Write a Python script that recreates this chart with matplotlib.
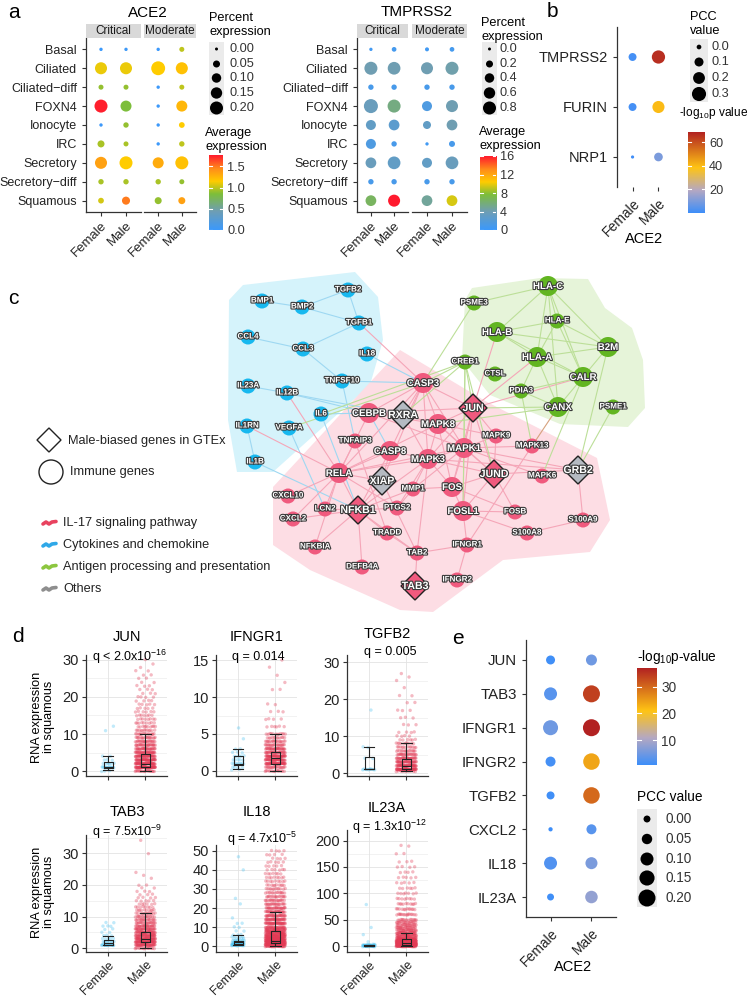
import numpy as np
import matplotlib
matplotlib.use('Agg')
import matplotlib.pyplot as plt
from matplotlib.colors import LinearSegmentedColormap
from matplotlib.patches import Polygon, Rectangle, Circle
import matplotlib.patheffects as pe

plt.rcParams['font.family'] = ['Liberation Sans', 'DejaVu Sans']
plt.rcParams['mathtext.default'] = 'regular'

W, H = 752, 998
fig = plt.figure(figsize=(W / 100, H / 100), dpi=100)

def px_axes(x0, y0, x1, y1, **kw):
    return fig.add_axes([x0 / W, 1 - y1 / H, (x1 - x0) / W, (y1 - y0) / H], **kw)

TXT = '#222222'
LN = '#333333'

# ---------------- data: panel a ----------------
cell_types = ['Basal', 'Ciliated', 'Ciliated\u2212diff', 'FOXN4', 'Ionocyte', 'IRC',
              'Secretory', 'Secretory\u2212diff', 'Squamous']
groups = ['Critical', 'Moderate']
sexes = ['Female', 'Male']
# columns: Critical-Female, Critical-Male, Moderate-Female, Moderate-Male
ace2_pct = [[0.003, 0.003, 0.003, 0.02],
            [0.17, 0.17, 0.23, 0.17],
            [0.02, 0.02, 0.003, 0.02],
            [0.20, 0.14, 0.003, 0.14],
            [0.003, 0.025, 0.003, 0.03],
            [0.05, 0.02, 0.003, 0.025],
            [0.17, 0.20, 0.14, 0.20],
            [0.025, 0.025, 0.025, 0.02],
            [0.03, 0.07, 0.05, 0.05]]
ace2_avg = [[0.0, 0.03, 0.0, 1.0],
            [1.1, 1.1, 1.15, 1.2],
            [0.9, 0.9, 0.02, 1.0],
            [1.75, 0.85, 0.02, 1.25],
            [0.02, 0.9, 0.02, 1.15],
            [0.95, 0.95, 0.02, 1.0],
            [1.35, 1.15, 1.3, 1.2],
            [0.95, 0.95, 0.95, 0.9],
            [1.05, 1.5, 0.9, 1.35]]
tmprss2_pct = [[0.01, 0.065, 0.035, 0.065],
               [0.80, 0.76, 0.675, 0.80],
               [0.10, 0.10, 0.10, 0.10],
               [0.935, 0.80, 0.455, 0.675],
               [0.455, 0.53, 0.275, 0.53],
               [0.455, 0.10, 0.01, 0.135],
               [0.53, 0.76, 0.455, 0.76],
               [0.10, 0.10, 0.10, 0.10],
               [0.53, 0.675, 0.53, 0.53]]
tmprss2_avg = [[0.5, 0.8, 0.5, 0.8],
               [4.0, 4.0, 4.0, 4.2],
               [1.0, 1.0, 1.0, 1.0],
               [3.5, 5.5, 1.5, 4.0],
               [3.0, 2.5, 3.0, 4.0],
               [1.5, 1.0, 0.5, 1.0],
               [3.5, 3.0, 3.0, 3.5],
               [1.0, 1.0, 1.0, 1.0],
               [6.5, 16.0, 4.8, 9.5]]

# ---------------- data: panel b ----------------
b_genes = ['TMPRSS2', 'FURIN', 'NRP1']
b_pcc_f = [0.07, 0.07, -0.02]
b_pcc_m = [0.26, 0.21, 0.09]
b_logp_f = [1.5, 1.5, 0.5]
b_logp_m = [66, 40, 10]

# ---------------- data: panel e ----------------
e_genes = ['JUN', 'TAB3', 'IFNGR1', 'IFNGR2', 'TGFB2', 'CXCL2', 'IL18', 'IL23A']
e_pcc_f = [0.027, 0.10, 0.147, 0.043, 0.013, -0.025, 0.10, 0.0]
e_pcc_m = [0.06, 0.20, 0.20, 0.186, 0.186, 0.043, 0.08, 0.09]
e_logp_f = [1, 3, 5, 1.5, 1, 0.8, 2.5, 1]
e_logp_m = [5, 34, 37, 24, 30, 3, 6, 8]

# ---------------- data: panel d ----------------
d_genes = ['JUN', 'IFNGR1', 'TGFB2', 'TAB3', 'IL18', 'IL23A']
d_q = [r'q < 2.0x10$^{-16}$', 'q = 0.014', 'q = 0.005',
       r'q = 7.5x10$^{-9}$', r'q = 4.7x10$^{-5}$', r'q = 1.3x10$^{-12}$']
jun_f_lv = [0, 1, 2, 3, 4, 11, 12]
jun_f_ct = [3, 14, 6, 3, 2, 1, 1]
jun_m_lv = list(range(0, 31))
jun_m_ct = [20, 60, 50, 45, 40, 35, 30, 25, 22, 18, 15, 12, 10, 9, 8, 7, 6, 5, 5, 4, 4, 3, 3, 3, 2, 2, 2, 2, 1, 1, 1]
ifngr1_f_lv = [0.2, 0.5, 1, 1.5, 2, 2.5, 3, 4.3, 5.8]
ifngr1_f_ct = [2, 4, 8, 5, 5, 3, 2, 1, 1]
ifngr1_m_lv = [0, 0.5, 1, 1.5, 2, 2.5, 3, 3.5, 4, 4.5, 5, 6, 7, 8, 9, 11, 12, 13, 14, 15]
ifngr1_m_ct = [15, 20, 50, 40, 45, 30, 30, 20, 18, 12, 12, 6, 4, 3, 2, 2, 1, 1, 1, 1]
tgfb2_f_lv = [1, 4, 7, 17]
tgfb2_f_ct = [10, 2, 2, 1]
tgfb2_m_lv = [0.5, 1, 2, 3, 4, 5, 6, 7, 8, 9, 10, 11, 13, 15, 17, 19, 21, 23, 25, 26, 27]
tgfb2_m_ct = [10, 60, 45, 35, 30, 22, 15, 12, 10, 6, 4, 4, 3, 3, 3, 2, 2, 1, 1, 1, 1]
tab3_f_lv = [1, 2, 3, 4, 5, 6, 7, 8]
tab3_f_ct = [18, 8, 5, 3, 2, 2, 3, 2]
tab3_m_lv = list(range(0, 21)) + [22, 23, 24, 30, 34]
tab3_m_ct = [15, 40, 50, 45, 40, 35, 30, 25, 20, 18, 15, 12, 10, 8, 6, 5, 4, 3, 3, 2, 2, 1, 1, 1, 1, 1]
il18_f_lv = [0.5, 1, 2, 3, 4, 5, 6, 8, 10, 12, 15, 22, 25, 40, 47]
il18_f_ct = [15, 25, 15, 8, 5, 4, 3, 2, 2, 2, 1, 1, 1, 1, 1]
il18_m_lv = [0, 1, 2, 3, 4, 5, 6, 7, 8, 9, 10, 12, 14, 16, 18, 20, 22, 24, 26, 28, 30, 32, 34, 36, 38, 40, 42, 44, 46, 48, 50]
il18_m_ct = [30, 60, 55, 50, 45, 40, 35, 32, 30, 28, 25, 40, 35, 30, 28, 25, 20, 18, 16, 14, 12, 10, 9, 8, 7, 6, 5, 5, 4, 4, 4]
il23a_f_lv = [0, 1, 2, 3, 8, 22, 36, 78]
il23a_f_ct = [12, 20, 10, 4, 1, 1, 1, 1]
il23a_m_lv = [0, 2, 4, 6, 8, 10, 12, 15, 20, 25, 30, 35, 40, 45, 50, 60, 70, 80, 90, 100, 110, 120, 130, 140, 150, 160, 175, 190]
il23a_m_ct = [40, 60, 55, 50, 45, 40, 35, 40, 35, 30, 25, 22, 20, 18, 15, 15, 12, 10, 8, 7, 6, 5, 5, 4, 4, 3, 2, 2]
# box stats: (whisker low, q1, median, q3, whisker high)
box_f = [(0.3, 0.8, 1, 2.5, 4), (0.2, 0.8, 1, 2, 3), (1, 1, 1, 4.3, 7),
         (1, 1, 1.5, 2.5, 4), (0.5, 1, 2, 3, 6), (0, 0.5, 1, 2, 3)]
box_m = [(0, 1, 2, 4.5, 10), (0, 1, 1.7, 2.5, 5), (0.5, 1, 2, 3.8, 8),
         (0, 2, 3, 5, 11), (0, 1.5, 3, 8, 18), (0, 2, 6, 14, 26)]

# ---------------- data: panel c network ----------------
node_name = ['BMP1', 'BMP2', 'TGFB2', 'TGFB1', 'CCL4', 'CCL3', 'IL18', 'IL23A', 'IL12B', 'TNFSF10',
             'IL6', 'IL1RN', 'VEGFA', 'IL1B',
             'CASP3', 'CEBPB', 'RXRA', 'TNFAIP3', 'CASP8', 'RELA', 'XIAP', 'MMP1', 'CXCL10', 'LCN2',
             'NFKB1', 'PTGS2', 'CXCL2', 'TRADD', 'NFKBIA', 'TAB2', 'DEFB4A', 'TAB3', 'IFNGR2', 'IFNGR1',
             'S100A8', 'S100A9', 'FOSB', 'FOSL1', 'FOS', 'JUND', 'MAPK6', 'GRB2', 'MAPK13', 'MAPK9',
             'MAPK1', 'MAPK3', 'MAPK8', 'JUN',
             'HLA-C', 'PSME3', 'HLA-E', 'HLA-B', 'B2M', 'HLA-A', 'CREB1', 'CTSL', 'CALR', 'PDIA3',
             'CANX', 'PSME1']
node_x = [262, 302, 348, 359, 248, 303, 367, 248, 287, 342, 321, 247, 289, 255,
          423, 369, 403, 355, 390, 339, 382, 413, 288, 325, 358, 397, 293, 387, 315, 417, 362, 415,
          457, 467, 527, 583, 515, 463, 452, 494, 542, 578, 532, 496, 464, 428, 438, 473,
          548, 474, 557, 497, 608, 537, 465, 495, 583, 521, 558, 613]
node_y = [301, 307, 290, 323, 337, 349, 354, 386, 393, 381, 414, 426, 428, 462,
          383, 413, 415, 441, 451, 473, 481, 489, 496, 509, 510, 508, 519, 533, 547, 553, 567, 586,
          580, 545, 533, 520, 512, 511, 487, 474, 476, 470, 446, 436, 448, 459, 424, 408,
          286, 303, 321, 332, 347, 357, 362, 374, 377, 391, 407, 407]
node_group = ['b'] * 14 + ['p', 'p', 'o', 'p', 'p', 'p', 'o', 'p', 'p', 'p', 'p', 'p', 'p', 'p', 'p', 'p',
                           'p', 'p', 'p', 'p', 'p', 'p', 'p', 'p', 'p', 'p', 'p', 'o', 'p', 'p',
                           'p', 'p', 'p', 'p'] + ['g'] * 12
node_shape = ['c'] * 16 + ['d', 'c', 'c', 'c', 'd', 'c', 'c', 'c', 'd', 'c', 'c', 'c', 'c', 'c', 'c', 'd',
                           'c', 'c', 'c', 'c', 'c', 'c', 'c', 'd', 'c', 'd', 'c', 'c', 'c', 'c', 'c', 'd'] + ['c'] * 12
big_nodes = ['CASP3', 'CEBPB', 'CASP8', 'RELA', 'FOS', 'FOSL1', 'MAPK1', 'MAPK3', 'MAPK8',
             'HLA-C', 'HLA-B', 'HLA-A', 'B2M', 'CALR', 'CANX']

edges_blue = [('BMP1', 'BMP2'), ('BMP2', 'TGFB2'), ('BMP2', 'TGFB1'), ('TGFB2', 'TGFB1'), ('TGFB1', 'CCL3'),
              ('CCL4', 'CCL3'), ('CCL3', 'TNFSF10'), ('IL23A', 'IL12B'), ('IL1RN', 'IL1B'), ('IL18', 'CASP3'),
              ('TNFSF10', 'CASP3'), ('TNFSF10', 'TNFAIP3'), ('IL12B', 'CEBPB'), ('IL12B', 'RXRA'),
              ('IL6', 'CEBPB'), ('IL6', 'NFKB1'), ('VEGFA', 'LCN2'), ('IL1B', 'NFKB1'), ('CEBPB', 'CASP8')]
edges_pink = [('RELA', 'NFKB1'), ('RELA', 'CEBPB'), ('RELA', 'CASP8'), ('RELA', 'MAPK3'), ('RELA', 'MAPK1'),
              ('RELA', 'XIAP'), ('RELA', 'CXCL10'), ('RELA', 'LCN2'), ('RELA', 'TNFAIP3'), ('RELA', 'NFKBIA'),
              ('RELA', 'CXCL2'), ('RELA', 'PTGS2'), ('RELA', 'MAPK8'), ('RELA', 'CASP3'), ('RELA', 'IL1RN'),
              ('RELA', 'IL12B'), ('NFKB1', 'CXCL2'), ('NFKB1', 'LCN2'), ('NFKB1', 'NFKBIA'), ('NFKB1', 'TRADD'),
              ('NFKB1', 'PTGS2'), ('NFKB1', 'MAPK3'), ('NFKB1', 'DEFB4A'), ('NFKB1', 'XIAP'), ('NFKB1', 'CASP8'),
              ('NFKB1', 'TAB2'), ('NFKB1', 'MMP1'), ('CASP3', 'CASP8'), ('CASP3', 'XIAP'), ('CASP3', 'MAPK8'),
              ('CASP3', 'JUN'), ('CASP3', 'MAPK3'), ('CASP3', 'CEBPB'), ('CASP3', 'RXRA'), ('CASP3', 'TGFB1'),
              ('CASP3', 'MAPK1'), ('CEBPB', 'RXRA'), ('CEBPB', 'MAPK8'), ('CEBPB', 'MAPK1'), ('CEBPB', 'JUN'),
              ('RXRA', 'MAPK8'), ('RXRA', 'MAPK3'), ('MAPK8', 'JUN'), ('MAPK8', 'MAPK1'), ('MAPK8', 'MAPK3'),
              ('MAPK8', 'MAPK9'), ('MAPK8', 'JUND'), ('MAPK8', 'FOS'), ('MAPK9', 'JUN'), ('MAPK9', 'JUND'),
              ('MAPK9', 'MAPK1'), ('MAPK1', 'MAPK3'), ('MAPK1', 'JUN'), ('MAPK1', 'FOS'), ('MAPK1', 'JUND'),
              ('MAPK1', 'FOSL1'), ('MAPK1', 'MAPK13'), ('MAPK1', 'GRB2'), ('MAPK1', 'MMP1'), ('MAPK1', 'MAPK6'),
              ('MAPK3', 'FOS'), ('MAPK3', 'MMP1'), ('MAPK3', 'CASP8'), ('MAPK3', 'GRB2'), ('MAPK3', 'JUND'),
              ('MAPK3', 'JUN'), ('MAPK3', 'TAB2'), ('MAPK3', 'PTGS2'), ('FOS', 'JUND'), ('FOS', 'FOSL1'),
              ('FOS', 'MMP1'), ('FOS', 'JUN'), ('FOS', 'FOSB'), ('FOSL1', 'FOSB'), ('FOSL1', 'JUND'),
              ('FOSL1', 'JUN'), ('FOSL1', 'IFNGR1'), ('JUND', 'JUN'), ('JUND', 'FOSB'), ('JUND', 'GRB2'),
              ('GRB2', 'S100A9'), ('S100A8', 'S100A9'), ('S100A8', 'FOSL1'), ('MAPK13', 'IFNGR1'),
              ('IFNGR1', 'IFNGR2'), ('IFNGR1', 'TAB2'), ('TAB2', 'TAB3'), ('TAB2', 'XIAP'), ('TAB2', 'TRADD'),
              ('XIAP', 'CASP8'), ('PTGS2', 'MMP1'), ('TRADD', 'TNFAIP3'), ('JUN', 'HLA-B'), ('JUN', 'HLA-A'),
              ('JUN', 'CALR')]
edges_green = [('HLA-C', 'PSME3'), ('HLA-C', 'HLA-B'), ('HLA-C', 'HLA-A'), ('HLA-C', 'HLA-E'), ('HLA-C', 'B2M'),
               ('HLA-C', 'CALR'), ('HLA-C', 'CANX'), ('HLA-B', 'HLA-E'), ('HLA-B', 'B2M'), ('HLA-B', 'HLA-A'),
               ('HLA-B', 'CALR'), ('HLA-E', 'HLA-A'), ('HLA-E', 'B2M'), ('HLA-E', 'CALR'), ('HLA-A', 'B2M'),
               ('HLA-A', 'CALR'), ('HLA-A', 'CANX'), ('HLA-A', 'PDIA3'), ('B2M', 'CALR'), ('B2M', 'GRB2'),
               ('CALR', 'CANX'), ('CALR', 'PDIA3'), ('CALR', 'MAPK6'), ('PDIA3', 'CANX'), ('PDIA3', 'MAPK13'),
               ('PSME3', 'CASP3'), ('CREB1', 'JUN'), ('CREB1', 'JUND'), ('CREB1', 'FOSL1'), ('CREB1', 'CASP3'),
               ('CREB1', 'RXRA'), ('CREB1', 'MAPK1'), ('PSME1', 'GRB2'), ('IL6', 'CREB1'), ('VEGFA', 'CASP3'),
               ('CANX', 'JUN'), ('CANX', 'MAPK8')]
edges_brown = [('CANX', 'MAPK13')]

blue_hull_x = [243, 355, 378, 383, 370, 273, 237, 228, 229]
blue_hull_y = [285, 272, 297, 340, 385, 472, 472, 420, 300]
pink_hull_x = [273, 400, 487, 597, 610, 590, 503, 433, 400, 310, 273]
pink_hull_y = [487, 350, 402, 458, 520, 552, 560, 612, 610, 570, 545]
green_hull_x = [472, 540, 588, 605, 632, 643, 645, 628, 560, 490, 462, 465]
green_hull_y = [288, 278, 279, 308, 328, 360, 408, 427, 424, 395, 360, 300]

legend_c = ['IL-17 signaling pathway', 'Cytokines and chemokine',
            'Antigen processing and presentation', 'Others']

# ---------------- colour maps ----------------
cmap_a = LinearSegmentedColormap.from_list(
    'a', [(0, '#3B99FC'), (0.25, '#6F9EB3'), (0.48, '#7DBE3A'), (0.65, '#FFCC00'),
          (0.82, '#FF8C1A'), (1.0, '#FF1A2E')])
cmap_p = LinearSegmentedColormap.from_list(
    'p', [(0, '#3D8EF9'), (0.28, '#B5A8C2'), (0.56, '#FFC414'), (1.0, '#B22222')])

ov = fig.add_axes([0, 0, 1, 1], zorder=5)
ov.set_xlim(0, W)
ov.set_ylim(H, 0)
ov.axis('off')


def style_dot_axes(ax):
    for s in ['top', 'right']:
        ax.spines[s].set_visible(False)
    for s in ['left', 'bottom']:
        ax.spines[s].set_color(LN)
        ax.spines[s].set_linewidth(0.9)
    ax.tick_params(length=3, width=0.8, color=LN, labelcolor=TXT)


def colorbar(x0, y0, x1, y1, cmap, vmin, vmax, ticks, labels, fs):
    cax = px_axes(x0, y0, x1, y1)
    grad = np.linspace(vmin, vmax, 256).reshape(-1, 1)
    cax.imshow(grad, aspect='auto', cmap=cmap, origin='lower', extent=[0, 1, vmin, vmax],
               vmin=vmin, vmax=vmax)
    cax.set_xlim(0, 1)
    cax.set_ylim(vmin, vmax)
    for t in ticks:
        cax.plot([0, 0.2], [t, t], color='white', lw=0.8)
        cax.plot([0.8, 1], [t, t], color='white', lw=0.8)
    cax.set_xticks([])
    cax.set_yticks(ticks)
    cax.set_yticklabels(labels)
    cax.yaxis.tick_right()
    cax.tick_params(length=0, pad=3, labelsize=fs, labelcolor='#333333')
    for s in cax.spines.values():
        s.set_visible(False)


def size_legend(x0, y0, x1, y1, keys, labels, ys, size_fn, lx, fs):
    ov.add_patch(Rectangle((x0, y0), x1 - x0, y1 - y0, fc='#EBEBEB', ec='none'))
    ov.scatter(np.full(len(keys), (x0 + x1) / 2), ys, s=size_fn(np.array(keys)), c='black',
               edgecolors='none')
    for lab, yy in zip(labels, ys):
        ov.text(lx, yy, lab, fontsize=fs, va='center', ha='left', color='#333333')


# ---------------- panel a ----------------
def dot_panel(boxes, pct, avg, size_fn, vmax):
    pct = np.array(pct)
    avg = np.array(avg)
    ypos = len(cell_types) - np.arange(len(cell_types))
    for gi, box in enumerate(boxes):
        ax = px_axes(*box)
        for si in range(2):
            col = gi * 2 + si
            ax.scatter(np.full(len(ypos), si + 1), ypos, s=size_fn(pct[:, col]), c=avg[:, col],
                       cmap=cmap_a, vmin=0, vmax=vmax, edgecolors='none', zorder=3)
        ax.set_xlim(0.4, 2.6)
        ax.set_ylim(0.4, len(cell_types) + 0.6)
        style_dot_axes(ax)
        ax.set_xticks([1, 2])
        ax.set_xticklabels(sexes, rotation=45, ha='right', rotation_mode='anchor', fontsize=9.5)
        ax.tick_params(axis='x', pad=2)
        if gi == 0:
            ax.set_yticks(ypos)
            ax.set_yticklabels(cell_types, fontsize=9.0)
        else:
            ax.spines['left'].set_visible(False)
            ax.set_yticks([])
        ax.patch.set_alpha(0)
        ov.add_patch(Rectangle((box[0], box[1] - 14), box[2] - box[0], 14, fc='#D9D9D9', ec='none'))
        ov.text((box[0] + box[2]) / 2, box[1] - 7, groups[gi], fontsize=8.5, ha='center', va='center',
                color='#1A1A1A')


ace2_size = lambda v: 4.7 + 415 * v
tmp_size = lambda v: 4.7 + 104 * v
dot_panel([(86, 38, 141, 212), (144, 38, 196, 212)], ace2_pct, ace2_avg, ace2_size, 1.77)
dot_panel([(357, 38, 408, 212), (412, 38, 467, 212)], tmprss2_pct, tmprss2_avg, tmp_size, 16)

ov.text(8, 12, 'a', fontsize=15, va='center', ha='left')
ov.text(148, 13, 'ACE2', fontsize=11, ha='center', va='center')
ov.text(417, 12, 'TMPRSS2', fontsize=11, ha='center', va='center')

ov.text(209, 25, 'Percent\nexpression', fontsize=9.2, ha='left', va='center', linespacing=1.15)
size_legend(209, 42, 224, 115, [0, 0.05, 0.1, 0.15, 0.2], ['0.00', '0.05', '0.10', '0.15', '0.20'],
            [49, 64, 78, 93, 108], ace2_size, 229, 9.2)
ov.text(205, 140, 'Average\nexpression', fontsize=9.2, ha='left', va='center', linespacing=1.15)
colorbar(209, 155, 223, 230, cmap_a, 0, 1.77, [0, 0.5, 1.0, 1.5], ['0.0', '0.5', '1.0', '1.5'], 9.2)

ov.text(481, 30, 'Percent\nexpression', fontsize=9.2, ha='left', va='center', linespacing=1.15)
size_legend(482, 42, 497, 115, [0, 0.2, 0.4, 0.6, 0.8], ['0.0', '0.2', '0.4', '0.6', '0.8'],
            [49, 64, 78, 93, 108], tmp_size, 500, 9.2)
ov.text(479, 139, 'Average\nexpression', fontsize=9.2, ha='left', va='center', linespacing=1.15)
colorbar(480, 156, 496, 230, cmap_a, 0, 16, [0, 4, 8, 12, 16], ['0', '4', '8', '12', '16'], 9.2)

# ---------------- panel b ----------------
b_size = lambda v: 11.4 + 306 * v
axb = px_axes(617, 27, 674, 187)
yb = len(b_genes) - np.arange(len(b_genes))
axb.scatter(np.ones(len(yb)), yb, s=b_size(np.array(b_pcc_f)), c=b_logp_f, cmap=cmap_p, vmin=0,
            vmax=68.5, edgecolors='none')
axb.scatter(np.full(len(yb), 2), yb, s=b_size(np.array(b_pcc_m)), c=b_logp_m, cmap=cmap_p, vmin=0,
            vmax=68.5, edgecolors='none')
axb.set_xlim(0.4, 2.6)
axb.set_ylim(0.4, len(b_genes) + 0.6)
style_dot_axes(axb)
axb.spines['bottom'].set_visible(False)
axb.set_yticks(yb)
axb.set_yticklabels(b_genes, fontsize=10.5)
axb.set_xticks([1, 2])
axb.set_xticklabels(sexes, rotation=45, ha='right', rotation_mode='anchor', fontsize=10)
axb.patch.set_alpha(0)
ov.text(547, 11, 'b', fontsize=15, va='center', ha='left')
ov.text(644, 239, 'ACE2', fontsize=10.5, ha='center', va='center')
ov.text(690, 24, 'PCC\nvalue', fontsize=9.2, ha='left', va='center', linespacing=1.15)
size_legend(690, 39, 708, 102, [0, 0.1, 0.2, 0.3], ['0.0', '0.1', '0.2', '0.3'], [47, 62, 78, 94],
            b_size, 712, 9.2)
ov.text(679, 113, r'-log$_{10}$p value', fontsize=8.6, ha='left', va='center')
colorbar(688, 132, 705, 213, cmap_p, 0, 68.5, [20, 40, 60], ['20', '40', '60'], 9.2)

# ---------------- panel c ----------------
net = px_axes(0, 265, W, 625)
net.set_xlim(0, W)
net.set_ylim(625, 265)
net.axis('off')
net.add_patch(Polygon(np.column_stack([blue_hull_x, blue_hull_y]), fc='#D5F3FB', ec='none', zorder=0))
net.add_patch(Polygon(np.column_stack([pink_hull_x, pink_hull_y]), fc='#FDDDE4', ec='none', zorder=0))
net.add_patch(Polygon(np.column_stack([green_hull_x, green_hull_y]), fc='#E6F4D9', ec='none', zorder=0))

pos = {n: (x, y) for n, x, y in zip(node_name, node_x, node_y)}
for elist, col in [(edges_blue, '#9ED8F2'), (edges_pink, '#F5A6B8'), (edges_green, '#BCDF98'),
                   (edges_brown, '#D6A27E')]:
    for a_, b_ in elist:
        net.plot([pos[a_][0], pos[b_][0]], [pos[a_][1], pos[b_][1]], color=col, lw=0.8, zorder=1)

fill = {'b': '#17B8EF', 'p': '#F05A7E', 'g': '#62B521', 'o': '#B5BAC2'}
for n, x, y, g, sh in zip(node_name, node_x, node_y, node_group, node_shape):
    if sh == 'd':
        h = 14
        net.add_patch(Polygon([(x, y - h), (x + h, y), (x, y + h), (x - h, y)], closed=True,
                              fc=fill[g], ec='#222222', lw=1.0, zorder=3))
        fs = 7.6
    else:
        r = 10 if n in big_nodes else 7.5
        net.add_patch(Circle((x, y), r, fc=fill[g], ec='none', zorder=3))
        fs = 7.0 if n in big_nodes else 5.8
    net.text(x, y, n, fontsize=fs, fontweight='bold', color='white', ha='center', va='center', zorder=4,
             path_effects=[pe.withStroke(linewidth=1.6, foreground='#3A3A3A')])

ov.text(8, 298, 'c', fontsize=15, va='center', ha='left')
net.add_patch(Polygon([(49, 428), (61, 440), (49, 452), (37, 440)], closed=True, fc='white',
                      ec='#222222', lw=1.0))
net.add_patch(Circle((51, 472), 12, fc='white', ec='#222222', lw=1.0))
net.text(68, 441, 'Male-biased genes in GTEx', fontsize=9.2, va='center', ha='left', color=TXT)
net.text(70, 472, 'Immune genes', fontsize=9.2, va='center', ha='left', color=TXT)
leg_cols = ['#E8425F', '#2FA8E8', '#8CC63F', '#8E8E8E']
leg_ys = [523, 545, 567, 589]
for lab, col, yy in zip(legend_c, leg_cols, leg_ys):
    net.plot([43, 46, 49, 52, 56], [yy + 1, yy - 1, yy + 1, yy - 1, yy - 1.5], color=col, lw=2.6,
             solid_capstyle='round')
    net.text(63, yy, lab, fontsize=9.2, va='center', ha='left', color=TXT)

# ---------------- panel d ----------------
f_lv = [jun_f_lv, ifngr1_f_lv, tgfb2_f_lv, tab3_f_lv, il18_f_lv, il23a_f_lv]
f_ct = [jun_f_ct, ifngr1_f_ct, tgfb2_f_ct, tab3_f_ct, il18_f_ct, il23a_f_ct]
m_lv = [jun_m_lv, ifngr1_m_lv, tgfb2_m_lv, tab3_m_lv, il18_m_lv, il23a_m_lv]
m_ct = [jun_m_ct, ifngr1_m_ct, tgfb2_m_ct, tab3_m_ct, il18_m_ct, il23a_m_ct]
d_boxes = [(86, 655, 167, 776), (216, 655, 297, 776), (347, 655, 428, 776),
           (86, 835, 167, 952), (216, 845, 297, 952), (347, 830, 428, 952)]
d_ylim = [(-1.35, 31.35), (-0.68, 15.68), (-0.8, 31.9), (-1.2, 35.8), (-3, 53), (-10.9, 220)]
d_ticks = [[0, 10, 20, 30], [0, 5, 10, 15], [0, 10, 20, 30], [0, 10, 20, 30],
           [0, 10, 20, 30, 40, 50], [0, 50, 100, 150, 200]]
d_title_xy = [(127, 637), (257, 637), (387, 634), (127, 812), (257, 812), (387, 808)]
d_q_xy = [(130, 657), (258, 657), (390, 652), (127, 832), (262, 839), (390, 827)]


def jitter(n, width, seed_mult):
    k = np.arange(n)
    return ((k * seed_mult) % 1 - 0.5) * 2 * width


for i in range(6):
    ax = px_axes(*d_boxes[i])
    ylo, yhi = d_ylim[i]
    step = d_ticks[i][1] - d_ticks[i][0]
    for t in np.arange(d_ticks[i][0], d_ticks[i][-1] + step, step / 2):
        ax.axhline(t, color='#E3E3E3' if (t / step) % 1 == 0 else '#F0F0F0', lw=0.6, zorder=0)
    ax.axvline(1, color='#E3E3E3', lw=0.6, zorder=0)
    ax.axvline(2, color='#E3E3E3', lw=0.6, zorder=0)
    for ci, (lv, ct, col, wd) in enumerate([(f_lv[i], f_ct[i], '#4FC4F2', 0.17),
                                            (m_lv[i], m_ct[i], '#E23A55', 0.27)]):
        vals = np.repeat(lv, ct).astype(float)
        n = len(vals)
        xs = ci + 1 + jitter(n, wd, 0.6180339887)
        ys = vals + jitter(n, 0.004 * (yhi - ylo), 0.7548776662)
        ax.scatter(xs, ys, s=6, c=col, alpha=0.35, edgecolors='none', zorder=2)
    stats = []
    for bs in (box_f[i], box_m[i]):
        stats.append({'whislo': bs[0], 'q1': bs[1], 'med': bs[2], 'q3': bs[3], 'whishi': bs[4],
                      'fliers': []})
    ax.bxp(stats, positions=[1, 2], widths=0.24, showfliers=False, patch_artist=False,
           boxprops=dict(color='#222222', lw=0.8), medianprops=dict(color='#222222', lw=0.8),
           whiskerprops=dict(color='#222222', lw=0.8), capprops=dict(color='#222222', lw=0.8),
           capwidths=0.28, zorder=3)
    ax.set_xlim(0.41, 2.58)
    ax.set_ylim(ylo, yhi)
    for s in ['top', 'right']:
        ax.spines[s].set_visible(False)
    for s in ['left', 'bottom']:
        ax.spines[s].set_color(LN)
        ax.spines[s].set_linewidth(0.9)
    ax.set_yticks(d_ticks[i])
    ax.tick_params(length=3, width=0.8, color=LN, labelcolor=TXT, labelsize=10.5, pad=2)
    ax.set_xticks([1, 2])
    if i >= 3:
        ax.set_xticklabels(sexes, rotation=45, ha='right', rotation_mode='anchor', fontsize=9)
    else:
        ax.set_xticklabels([])
    ov.text(*d_title_xy[i], d_genes[i], fontsize=10.5, ha='center', va='center')
    ov.text(*d_q_xy[i], d_q[i], fontsize=9, ha='center', va='center')

ov.text(12, 637, 'd', fontsize=15, va='center', ha='left')
ov.text(43, 717, 'RNA expression\nin squamous', fontsize=9.2, rotation=90, ha='center', va='center',
        linespacing=1.1)
ov.text(43, 892, 'RNA expression\nin squamous', fontsize=9.2, rotation=90, ha='center', va='center',
        linespacing=1.1)

# ---------------- panel e ----------------
e_size = lambda v: 25 + 625 * v
axe = px_axes(526, 640, 616, 917)
ye = len(e_genes) - np.arange(len(e_genes))
axe.scatter(np.ones(len(ye)), ye, s=e_size(np.array(e_pcc_f)), c=e_logp_f, cmap=cmap_p, vmin=0.7,
            vmax=37, edgecolors='none')
axe.scatter(np.full(len(ye), 2), ye, s=e_size(np.array(e_pcc_m)), c=e_logp_m, cmap=cmap_p, vmin=0.7,
            vmax=37, edgecolors='none')
axe.set_xlim(0.4, 2.6)
axe.set_ylim(0.41, len(e_genes) + 0.59)
style_dot_axes(axe)
axe.set_yticks(ye)
axe.set_yticklabels(e_genes, fontsize=10.8)
axe.set_xticks([1, 2])
axe.set_xticklabels(sexes, rotation=45, ha='right', rotation_mode='anchor', fontsize=10)
axe.patch.set_alpha(0)
ov.text(452, 638, 'e', fontsize=15, va='center', ha='left')
ov.text(573, 967, 'ACE2', fontsize=10.5, ha='center', va='center')
ov.text(637, 657, r'-log$_{10}$p-value', fontsize=9.8, ha='left', va='center')
colorbar(637, 668, 657, 765, cmap_p, 0.7, 37, [10, 20, 30], ['10', '20', '30'], 9.8)
ov.text(637, 797, 'PCC value', fontsize=9.8, ha='left', va='center')
size_legend(637, 809, 657, 907, [0, 0.05, 0.1, 0.15, 0.2], ['0.00', '0.05', '0.10', '0.15', '0.20'],
            [819, 839, 859, 878, 898], e_size, 665, 9.8)

fig.savefig('out.png', dpi=100)
